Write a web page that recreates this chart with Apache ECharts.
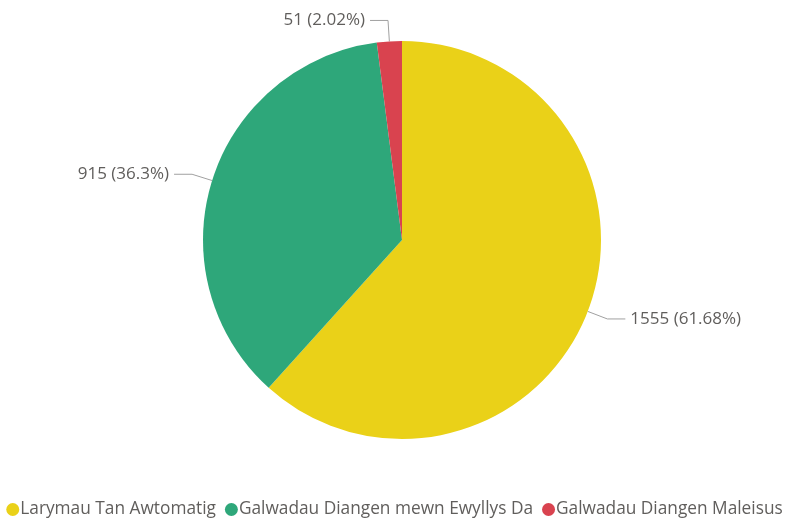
<!DOCTYPE html>
<html>
<head>
<meta charset="utf-8">
<script src="https://cdn.jsdelivr.net/npm/echarts@6/dist/echarts.min.js"></script>
<style>
  html, body { margin: 0; padding: 0; background: #fff; }
  #chart { width: 789px; height: 526px; }
</style>
</head>
<body>
<div id="chart"></div>
<script>
// categories and values
var categories = ['Larymau Tan Awtomatig', 'Galwadau Diangen mewn Ewyllys Da', 'Galwadau Diangen Maleisus'];
var values = [1555, 915, 51];
var percents = ['61.68%', '36.3%', '2.02%'];
var colors = ['#EAD118', '#2EA77A', '#D9434F'];

var chart = echarts.init(document.getElementById('chart'));

var data = categories.map(function(name, i) {
    return { name: name, value: values[i], pct: percents[i] };
});

chart.setOption({
    animation: false,
    color: colors,
    textStyle: { fontFamily: 'Open Sans' },
    legend: {
        bottom: 3,
        left: 'center',
        icon: 'circle',
        itemWidth: 13,
        itemHeight: 13,
        itemGap: 9,
        textStyle: { color: '#605E5C', fontSize: 17.3, padding: [0, 0, 0, -4] },
        data: categories
    },
    series: [{
        type: 'pie',
        center: [402, 240],
        radius: 199,
        startAngle: 90,
        data: data,
        itemStyle: { borderColor: '#fff', borderWidth: 0 },
        label: {
            formatter: function(p) { return p.value + ' (' + p.data.pct + ')'; },
            color: '#605E5C',
            fontSize: 17
        },
        labelLine: {
            length: 21,
            length2: 18,
            lineStyle: { color: '#A0A0A0', width: 1 }
        }
    }]
});
</script>
</body>
</html>
